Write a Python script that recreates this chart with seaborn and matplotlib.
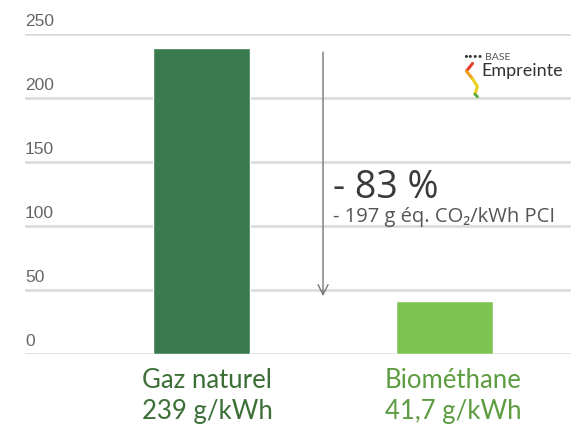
import matplotlib
matplotlib.use("Agg")
import matplotlib.pyplot as plt
import seaborn as sns

categories = ["Gaz naturel", "Biométhane"]
values = [239, 41.7]
value_labels = ["239 g/kWh", "41,7 g/kWh"]
bar_colors = ["#397b4f", "#7dc453"]
text_colors = ["#3b6f36", "#5d9d41"]
yticks = [0, 50, 100, 150, 200, 250]

sns.set_theme(style="white")
plt.rcParams["font.family"] = ["Lato", "DejaVu Sans"]

fig = plt.figure(figsize=(5.71, 4.25), dpi=100)
ax = fig.add_axes([25 / 571, 71 / 425, 546 / 571, 320 / 425])

sns.barplot(x=categories, y=values, hue=categories, palette=bar_colors,
            width=0.4, saturation=1, legend=False, ax=ax, zorder=3)

ax.set_ylim(0, 250)
ax.set_xlim(-0.726, 1.52)
ax.set_xticks([])
ax.set_yticks([])
ax.set_xlabel("")
ax.set_ylabel("")
for s in ax.spines.values():
    s.set_visible(False)

# gridlines with labels sitting on top, left aligned
for t in yticks:
    ax.axhline(t, color="#d9d9d9", lw=1.8, zorder=1)
    ax.text(0, t + 4, str(t), transform=ax.get_yaxis_transform(),
            ha="left", va="bottom", fontsize=12.5, color="#666666",
            family=["Liberation Sans", "DejaVu Sans"])

# category labels below bars
for i, (c, v) in enumerate(zip(categories, value_labels)):
    ax.text(i - 0.245, -11, c + "\n" + v, ha="left", va="top",
            fontsize=18.5, color=text_colors[i], linespacing=1.3,
            clip_on=False)

# reduction arrow
ax.annotate("", xy=(0.5, 43), xytext=(0.5, 238),
            arrowprops=dict(arrowstyle="->", color="#777777", lw=1,
                            mutation_scale=18))

ax.text(0.54, 122, "- 83 %", fontsize=27, color="#3a3a3a",
        ha="left", va="baseline", family=["Open Sans", "DejaVu Sans"])
ax.text(0.54, 103, "- 197 g éq. CO₂/kWh PCI", fontsize=14.5,
        color="#555555", ha="left", va="baseline", clip_on=False,
        family=["Open Sans", "DejaVu Sans"])

# logo
ax.text(1.165, 230, "BASE", fontsize=7.5, color="#555555", ha="left",
        va="baseline")
ax.text(1.15, 217, "Empreinte", fontsize=13, color="#333333", ha="left",
        va="baseline", clip_on=False)
ax.text(1.075, 231, "\u2022\u2022\u2022\u2022", fontsize=6, color="#333333",
        ha="left", va="baseline")
ax.plot([1.115, 1.09], [227, 221], color="#e0402a", lw=2.2,
        solid_capstyle="round", zorder=4)
ax.plot([1.09, 1.115], [221, 215], color="#f0a020", lw=2.2,
        solid_capstyle="round", zorder=4)
ax.plot([1.115, 1.135, 1.125], [215, 209, 203], color="#e8d020", lw=2.2,
        solid_capstyle="round", zorder=4)
ax.plot([1.125, 1.135], [203, 201], color="#60b040", lw=2.2,
        solid_capstyle="round", zorder=4)

fig.savefig("out.png", dpi=100, facecolor="white")
